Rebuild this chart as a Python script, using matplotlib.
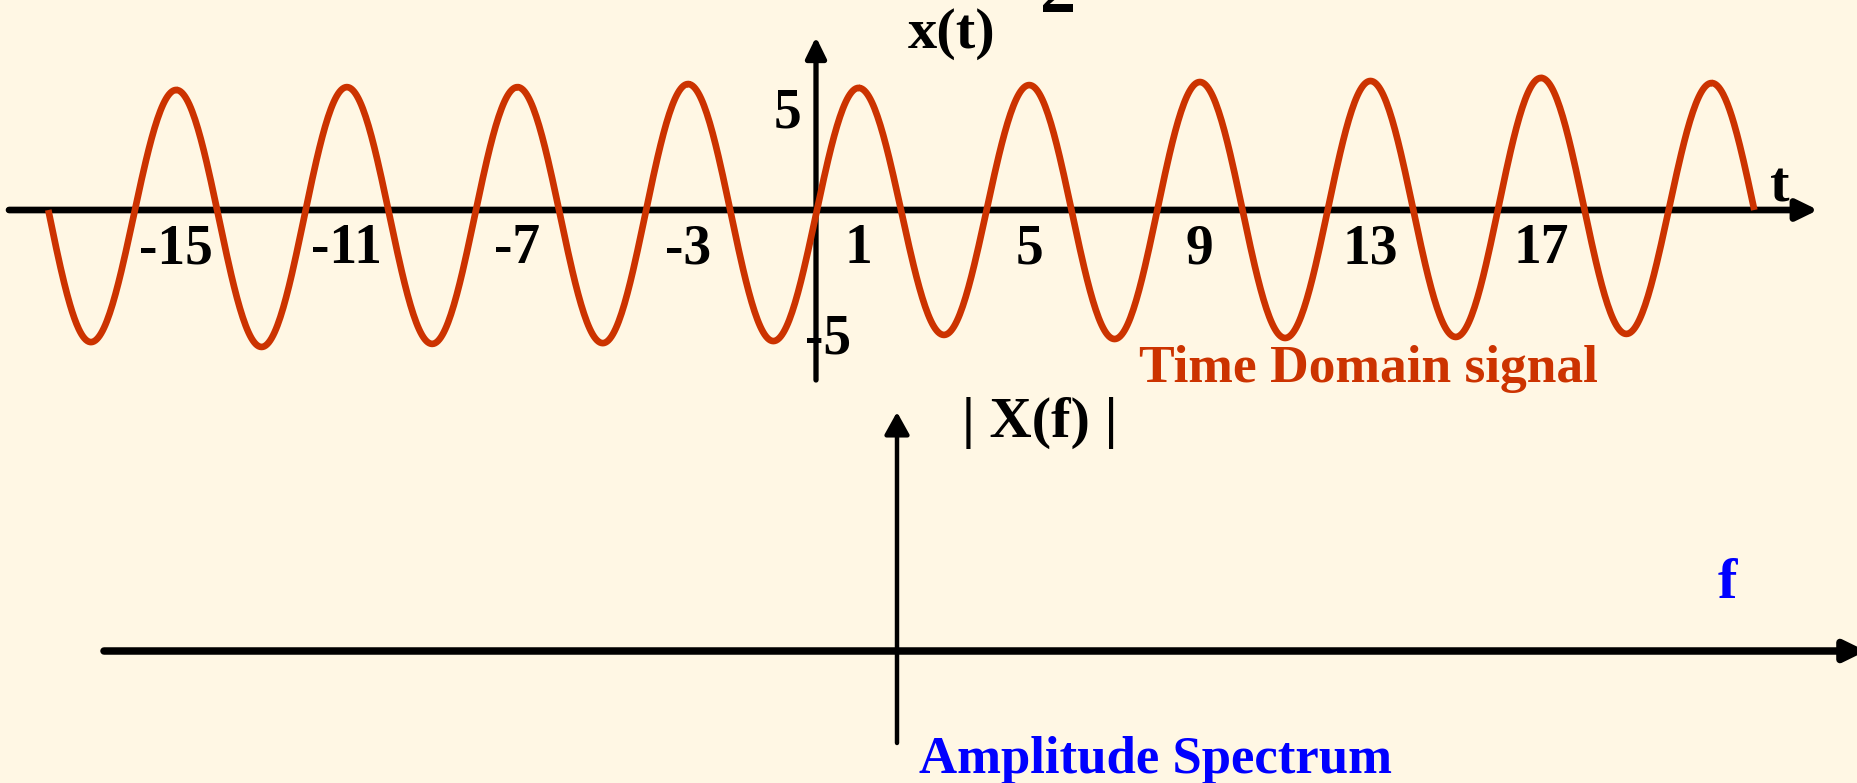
import numpy as np
import matplotlib
matplotlib.use("Agg")
import matplotlib.pyplot as plt

# ---------------- data ----------------
t_start, t_end = -18.0, 22.0
peak_t = [-15, -11, -7, -3, 1, 5, 9, 13, 17, 21]
peak_v = [4.69, 4.80, 4.80, 4.92, 4.77, 4.88, 5.00, 5.04, 5.16, 4.96]
trough_t = [-17, -13, -9, -5, -1, 3, 7, 11, 15, 19]
trough_v = [-5.16, -5.35, -5.23, -5.20, -5.12, -4.88, -5.04, -5.00, -4.96, -4.84]
tick_vals = [-15, -11, -7, -3, 1, 5, 9, 13, 17]
tick_labels = ["-15", "-11", "-7", "-3", "1", "5", "9", "13", "17"]
ytick_labels = ["5", "-5"]

BG = "#FFF7E4"
RED = "#CC3300"
BLUE = "#0000FF"
FONT = "Liberation Serif"

# ---------------- build smooth curve through read extrema ----------------
ext = sorted(list(zip(peak_t, peak_v)) + list(zip(trough_t, trough_v)))
knots = [(t_start, 0.0)] + ext + [(t_end, 0.0)]
ts, vs = [], []
for i in range(len(knots) - 1):
    (t0, v0), (t1, v1) = knots[i], knots[i + 1]
    s = np.linspace(0, 1, 60)
    if i == 0:                      # zero -> first extremum (quarter wave)
        v = v1 * np.sin(np.pi / 2 * s)
    elif i == len(knots) - 2:       # last extremum -> zero
        v = v0 * np.cos(np.pi / 2 * s)
    else:                           # extremum -> extremum (half wave)
        v = v0 + (v1 - v0) * (1 - np.cos(np.pi * s)) / 2
    ts.append(t0 + (t1 - t0) * s)
    vs.append(v)
ts = np.concatenate(ts)
vs = np.concatenate(vs)

# ---------------- figure ----------------
W, H, DPI = 1858, 783, 100
fig = plt.figure(figsize=(W / DPI, H / DPI), dpi=DPI, facecolor=BG)

# top (time-domain) axes: t=0 at px 816, 42.65 px/unit; x=0 at px 210, 25.6 px/unit
ax = fig.add_axes([0, 0, 1, 1], facecolor="none")
X0, SX, Y0, SY = 816.0, 42.65, 210.0, 25.6
ax.set_xlim(-X0 / SX, (W - X0) / SX)
ax.set_ylim(-(H - Y0) / SY, Y0 / SY)
ax.axis("off")

def px2t(px):
    return (px - X0) / SX

def py2v(py):
    return (Y0 - py) / SY

# horizontal t axis with arrow
ax.annotate("", xy=(px2t(1818), 0), xytext=(px2t(9), 0), annotation_clip=False,
            arrowprops=dict(arrowstyle="-|>,head_length=0.45,head_width=0.22",
                            lw=4.8, color="black", shrinkA=0, shrinkB=0,
                            mutation_scale=28))
# vertical axis
ax.annotate("", xy=(0, py2v(37)), xytext=(0, py2v(380)), annotation_clip=False,
            arrowprops=dict(arrowstyle="-|>,head_length=0.45,head_width=0.22",
                            lw=3.8, color="black", shrinkA=0, shrinkB=0,
                            mutation_scale=28))

# signal
ax.plot(ts, vs, color=RED, lw=4.8, solid_capstyle="butt", zorder=3)

# tick labels
for tv, lab in zip(tick_vals, tick_labels):
    ax.text(tv, py2v(263), lab, ha="center", va="baseline", fontsize=40,
            fontweight="bold", family=FONT, color="black", zorder=2)
ax.text(px2t(788), py2v(127), ytick_labels[0], ha="center", va="baseline",
        fontsize=40, fontweight="bold", family=FONT, color="black")
ax.text(px2t(828), py2v(353), ytick_labels[1], ha="center", va="baseline",
        fontsize=40, fontweight="bold", family=FONT, color="black")

# labels
ax.text(px2t(952), py2v(48), "x(t)", ha="center", va="baseline", fontsize=42,
        fontweight="bold", family=FONT, color="black")
ax.text(px2t(1058), py2v(12), "2", ha="center", va="baseline", fontsize=52,
        fontweight="bold", family=FONT, color="black")
ax.text(px2t(1780), py2v(202), "t", ha="center", va="baseline", fontsize=42,
        fontweight="bold", family=FONT, color="black")
ax.text(px2t(1368), py2v(382), "Time Domain signal", ha="center", va="baseline",
        fontsize=38.5, fontweight="bold", family=FONT, color=RED)

# bottom (spectrum) axes: origin at px (897, 651), 1 unit per px
ax2 = fig.add_axes([0, 0, 1, 1], facecolor="none")
FX0, FY0 = 897.0, 651.0
ax2.set_xlim(-FX0, W - FX0)
ax2.set_ylim(-(H - FY0), FY0)
ax2.axis("off")

ax2.annotate("", xy=(1866 - FX0, 0), xytext=(104 - FX0, 0), annotation_clip=False,
             arrowprops=dict(arrowstyle="-|>,head_length=0.45,head_width=0.22",
                             lw=5.4, color="black", shrinkA=0, shrinkB=0,
                             mutation_scale=28))
ax2.annotate("", xy=(0, FY0 - 412), xytext=(0, FY0 - 743), annotation_clip=False,
             arrowprops=dict(arrowstyle="-|>,head_length=0.45,head_width=0.25",
                             lw=3.2, color="black", shrinkA=0, shrinkB=0,
                             mutation_scale=30))

ax2.text(1040 - FX0, FY0 - 437, "| X(f) |", ha="center", va="baseline",
         fontsize=42, fontweight="bold", family=FONT, color="black")
ax2.text(1727 - FX0, FY0 - 598, "f", ha="center", va="baseline",
         fontsize=42, fontweight="bold", family=FONT, color=BLUE)
ax2.text(1156 - FX0, FY0 - 773, "Amplitude Spectrum", ha="center", va="baseline",
         fontsize=38, fontweight="bold", family=FONT, color=BLUE)

fig.savefig("out.png", dpi=DPI, facecolor=BG)
